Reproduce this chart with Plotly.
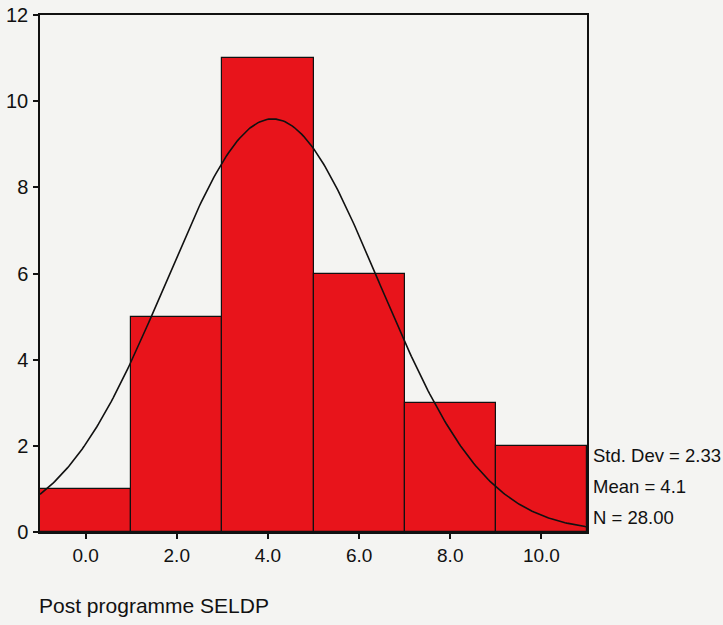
import numpy as np
import plotly.graph_objects as go

# Histogram of post-programme SELDP scores (bin width 2)
bin_centers = [0, 2, 4, 6, 8, 10]
counts = [1, 5, 11, 6, 3, 2]
bin_width = 2

# Summary statistics shown beside the chart
std_dev = 2.33
mean = 4.1
n_total = 28

x_ticks = [0, 2, 4, 6, 8, 10]
x_tick_text = ["0.0", "2.0", "4.0", "6.0", "8.0", "10.0"]
y_ticks = [0, 2, 4, 6, 8, 10, 12]

# Fitted normal curve scaled to counts
xs = np.linspace(-1, 11, 300)
ys = n_total * bin_width / (std_dev * np.sqrt(2 * np.pi)) * np.exp(-0.5 * ((xs - mean) / std_dev) ** 2)

bg = "#f4f4f2"
font = "Liberation Sans, Arial, sans-serif"

fig = go.Figure()
fig.add_trace(go.Bar(
    x=bin_centers, y=counts, width=bin_width,
    marker=dict(color="#e8141b", line=dict(color="#111111", width=1.2)),
    hoverinfo="x+y",
))
fig.add_trace(go.Scatter(
    x=xs, y=ys, mode="lines",
    line=dict(color="#111111", width=1.6),
    hoverinfo="skip",
))

fig.update_layout(
    width=723, height=625,
    margin=dict(l=40, r=136, t=15, b=93, autoexpand=False),
    paper_bgcolor=bg, plot_bgcolor=bg,
    showlegend=False, bargap=0,
    font=dict(family=font, color="#111111"),
    xaxis=dict(
        range=[-1, 11], tickvals=x_ticks, ticktext=x_tick_text,
        showgrid=False, zeroline=False,
        showline=True, mirror=True, linecolor="#111111", linewidth=1.5,
        ticks="outside", ticklen=5, tickcolor="#111111", tickwidth=1.5,
        tickfont=dict(size=19, family=font, color="#111111"),
    ),
    yaxis=dict(
        range=[0, 12], tickvals=y_ticks,
        showgrid=False, zeroline=False,
        showline=True, mirror=True, linecolor="#111111", linewidth=1.5,
        ticks="outside", ticklen=5, tickcolor="#111111", tickwidth=1.5,
        ticklabelstandoff=1,
        tickfont=dict(size=20, family=font, color="#111111"),
    ),
)

stats_lines = [f"Std. Dev = {std_dev:.2f}", f"Mean = {mean:.1f}", f"N = {n_total:.2f}"]
for i, txt in enumerate(stats_lines):
    fig.add_annotation(
        xref="paper", yref="paper", x=1.0, y=(625 - 93 - (455 + 31 * i)) / (625 - 15 - 93),
        xanchor="left", yanchor="middle", xshift=4,
        text=txt, showarrow=False,
        font=dict(size=18.5, family=font, color="#111111"),
    )

fig.add_annotation(
    xref="paper", yref="paper", x=0, y=-(605 - 532) / (625 - 15 - 93),
    xanchor="left", yanchor="middle", xshift=-3,
    text="Post programme SELDP", showarrow=False,
    font=dict(size=21, family=font, color="#111111"),
)

fig.write_html("out.html")
